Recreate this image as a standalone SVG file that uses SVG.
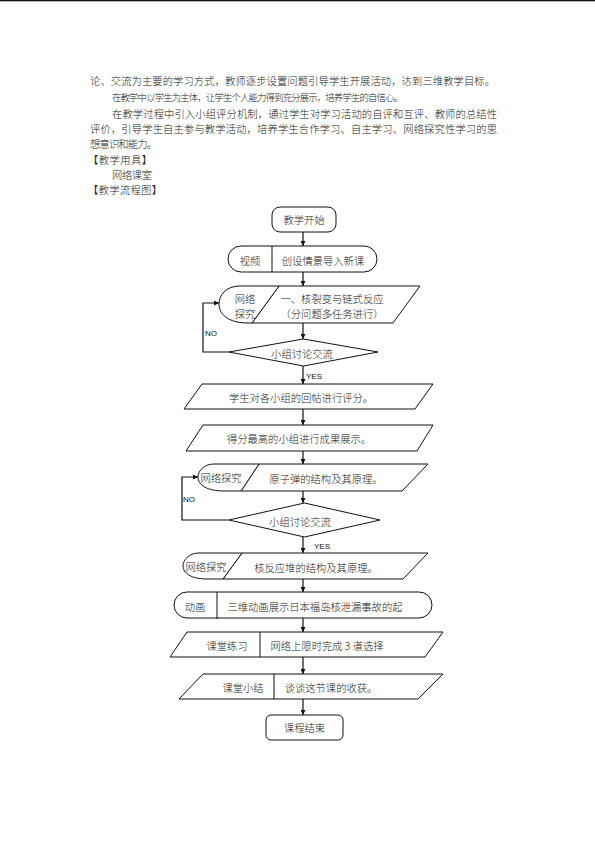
<svg xmlns="http://www.w3.org/2000/svg" width="595" height="841" viewBox="0 0 595 841">
<style>
.t{font-family:"Noto Sans CJK SC","Noto Sans CJK JP",sans-serif;font-size:10.3px;fill:#222;dominant-baseline:central;text-anchor:middle;font-weight:300}
.b{font-family:"Noto Sans CJK SC","Noto Sans CJK JP",sans-serif;font-size:10.3px;fill:#222;dominant-baseline:central;font-weight:300}
.s{fill:#fff;stroke:#111;stroke-width:1}
.l{fill:none;stroke:#111;stroke-width:1}
.c{fill:none;stroke:#111;stroke-width:1.2;marker-end:url(#ah)}
.lab{font-family:"Liberation Sans",Arial,sans-serif;font-size:8px;fill:#111;dominant-baseline:central}
</style>
<defs>
<marker id="ah" viewBox="0 0 10 10" refX="10" refY="5" markerWidth="5" markerHeight="5" orient="auto" markerUnits="userSpaceOnUse">
<path d="M0,0 L10,5 L0,10 Z" fill="#111"/>
</marker>
</defs>
<rect x="0" y="0" width="595" height="1.3" fill="#111"/>
<g id="body">
<text class="b" x="90" y="80" textLength="405">论、交流为主要的学习方式，教师逐步设置问题引导学生开展活动，达到三维教学目标。</text>
<text class="b" x="112" y="97" textLength="291" style="font-size:9.4px">在教学中以学生为主体，让学生个人能力得到充分展示，培养学生的自信心。</text>
<text class="b" x="112" y="113" textLength="385">在教学过程中引入小组评分机制，通过学生对学习活动的自评和互评、教师的总结性</text>
<text class="b" x="90" y="128" textLength="407">评价，引导学生自主参与教学活动，培养学生合作学习、自主学习、网络探究性学习的思</text>
<text class="b" x="90" y="143" textLength="67">想意识和能力。</text>
<text class="b" x="88" y="159" textLength="64">【教学用具】</text>
<text class="b" x="112" y="174" textLength="40">网络课室</text>
<text class="b" x="88" y="189" textLength="74">【教学流程图】</text>
</g>
<g id="connectors">
<line class="c" x1="303" y1="232" x2="303" y2="246"/>
<line class="c" x1="303" y1="272" x2="303" y2="286"/>
<line class="c" x1="303" y1="323" x2="303" y2="339"/>
<line class="c" x1="303" y1="366" x2="303" y2="384"/>
<line class="c" x1="303" y1="409" x2="303" y2="425"/>
<line class="c" x1="303" y1="451" x2="303" y2="464"/>
<line class="c" x1="303" y1="491" x2="303" y2="503"/>
<line class="c" x1="303" y1="537" x2="303" y2="553"/>
<line class="c" x1="303" y1="579" x2="303" y2="592"/>
<line class="c" x1="303" y1="618" x2="303" y2="632"/>
<line class="c" x1="303" y1="657" x2="303" y2="674"/>
<line class="c" x1="303" y1="699" x2="303" y2="715"/>
<polyline class="c" points="229,352 203,352 203,303 219,303"/>
<polyline class="c" points="229,520 182,520 182,477 198,477"/>
<text class="lab" x="306" y="376">YES</text>
<text class="lab" x="314" y="546">YES</text>
<text class="lab" x="205" y="333">NO</text>
<text class="lab" x="183" y="499">NO</text>
</g>
<g id="start">
<rect class="s" x="272" y="207" width="64" height="25" rx="8"/>
<text class="t" x="304" y="219.5">教学开始</text>
</g>
<g id="video">
<rect class="s" x="228" y="246" width="149" height="26" rx="13"/>
<line class="l" x1="272" y1="246" x2="272" y2="272"/>
<text class="t" x="250" y="260">视频</text>
<text class="t" x="323" y="260">创设情景导入新课</text>
</g>
<g id="explore1">
<path class="s" d="M279,286 L420,286 L393,323 L252,323 Z"/>
<path class="s" d="M279,286 L240,286 C226,286 219,295 219,304 C219,314 228,323 248,323 L252,323 Z"/>
<text class="t" x="245" y="298">网络</text>
<text class="t" x="245" y="313">探究</text>
<text class="t" x="332" y="298">一、核裂变与链式反应</text>
<text class="t" x="332" y="313">（分问题多任务进行）</text>
</g>
<g id="decision1">
<path class="s" d="M229,352 L303.5,339 L378,352 L303.5,366 Z"/>
<text class="t" x="302" y="353">小组讨论交流</text>
</g>
<g id="score">
<path class="s" d="M202,384 L433,384 L415,409 L184,409 Z"/>
<text class="t" x="301" y="397">学生对各小组的回帖进行评分。</text>
</g>
<g id="show">
<path class="s" d="M203,425 L433,425 L417,451 L186,451 Z"/>
<text class="t" x="299" y="438">得分最高的小组进行成果展示。</text>
</g>
<g id="explore2">
<path class="s" d="M259,464 L428,464 L402,491 L241,491 Z"/>
<path class="s" d="M259,464 L214,464 C204,464 198,471 198,477 C198,485 207,491 224,491 L241,491 Z"/>
<text class="t" x="221" y="477.5">网络探究</text>
<text class="t" x="326" y="478">原子弹的结构及其原理。</text>
</g>
<g id="decision2">
<path class="s" d="M229,520 L304.5,503 L380,520 L304.5,537 Z"/>
<text class="t" x="300" y="521">小组讨论交流</text>
</g>
<g id="explore3">
<path class="s" d="M242,553 L428,553 L403,579 L223,579 Z"/>
<path class="s" d="M242,553 L199,553 C189,553 183,560 183,566 C183,573 191,579 207,579 L223,579 Z"/>
<text class="t" x="206" y="566">网络探究</text>
<text class="t" x="316" y="567">核反应堆的结构及其原理。</text>
</g>
<g id="animation">
<rect class="s" x="174" y="592" width="258" height="26" rx="13"/>
<line class="l" x1="217" y1="592" x2="217" y2="619"/>
<text class="t" x="195" y="606">动画</text>
<text class="t" x="315" y="606">三维动画展示日本福岛核泄漏事故的起</text>
</g>
<g id="practice">
<path class="s" d="M187,632 L443,632 L425,657 L170,657 Z"/>
<line class="l" x1="260" y1="632" x2="260" y2="657"/>
<text class="t" x="227" y="645.5">课堂练习</text>
<text class="t" x="327" y="645.5">网络上限时完成 3 道选择</text>
</g>
<g id="summary">
<path class="s" d="M203,674 L443,674 L418,699 L179,699 Z"/>
<line class="l" x1="274" y1="674" x2="274" y2="699"/>
<text class="t" x="243" y="687.5">课堂小结</text>
<text class="t" x="331" y="687.5">谈谈这节课的收获。</text>
</g>
<g id="end">
<rect class="s" x="266" y="715" width="77" height="25" rx="5"/>
<text class="t" x="304.5" y="727.5">课程结束</text>
</g>
</svg>
